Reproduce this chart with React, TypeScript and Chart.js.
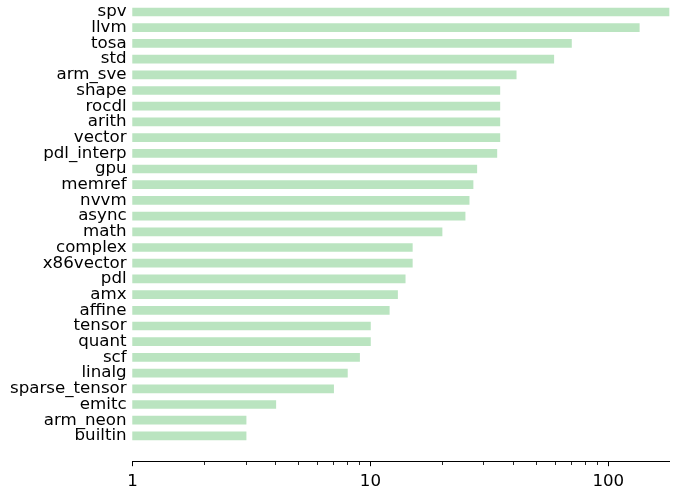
import React, { useEffect, useRef } from "react";
import { Chart, registerables } from "chart.js";

Chart.register(...registerables);

const categories: string[] = [
  "spv", "llvm", "tosa", "std", "arm_sve", "shape", "rocdl", "arith", "vector",
  "pdl_interp", "gpu", "memref", "nvvm", "async", "math", "complex", "x86vector",
  "pdl", "amx", "affine", "tensor", "quant", "scf", "linalg", "sparse_tensor",
  "emitc", "arm_neon", "builtin",
];

const counts: number[] = [
  180, 135, 70, 59, 41, 35, 35, 35, 35,
  34, 28, 27, 26, 25, 20, 15, 15,
  14, 13, 12, 10, 10, 9, 8, 7,
  4, 3, 3,
];

const majorTicks: number[] = [1, 10, 100];
const minorTicks: number[] = [2, 3, 4, 5, 6, 7, 8, 9, 20, 30, 40, 50, 60, 70, 80, 90];

const FONT = "'DejaVu Sans', sans-serif";

const isMajor = (ctx: any) => !!ctx.tick && majorTicks.includes(Number(ctx.tick.value));

export default function App() {
  const ref = useRef<HTMLCanvasElement | null>(null);

  useEffect(() => {
    if (!ref.current) return;
    const chart = new Chart(ref.current, {
      type: "bar",
      data: {
        datasets: [
          {
            data: counts.map((v, i) => ({ x: v, y: i })),
            backgroundColor: "rgb(186,228,192)",
            borderWidth: 0,
            barThickness: 8,
            clip: false as any,
          },
        ],
      },
      options: {
        animation: false,
        responsive: false,
        indexAxis: "y",
        layout: { padding: { top: 8, right: 4, left: 4, bottom: 0 } },
        plugins: { legend: { display: false }, tooltip: { enabled: false } },
        scales: {
          x: {
            type: "logarithmic",
            min: 1,
            max: Math.max(...counts),
            offset: false,
            border: { display: true, color: "#000", width: 1 },
            grid: {
              display: true,
              drawOnChartArea: false,
              drawTicks: true,
              tickLength: 5,
              tickColor: "#000",
              tickWidth: (ctx: any) => (isMajor(ctx) ? 1 : 0.85),
              tickBorderDash: (ctx: any) => (isMajor(ctx) ? [] : [3, 30]),
            } as any,
            afterBuildTicks: (scale: any) => {
              const all = [...majorTicks, ...minorTicks].sort((a, b) => a - b);
              scale.ticks = all.map((v) => ({ value: v, major: majorTicks.includes(v) }));
            },
            ticks: {
              autoSkip: false,
              maxRotation: 0,
              padding: 5.4,
              color: "#000",
              font: { family: FONT, size: 16.67 },
              callback: (v: any) => (majorTicks.includes(Number(v)) ? String(v) : ""),
            },
          },
          y: {
            type: "linear",
            reverse: true,
            offset: false,
            min: -0.2547,
            max: 28.611,
            border: { display: false },
            grid: { display: false, drawTicks: false, offset: false },
            afterBuildTicks: (scale: any) => {
              scale.ticks = categories.map((_, i) => ({ value: i }));
            },
            ticks: {
              autoSkip: false,
              padding: 6,
              color: "#000",
              font: { family: FONT, size: 16.67, lineHeight: 0.1 },
              callback: (v: any) => categories[Number(v)] ?? "",
            },
          },
        },
      },
    });
    return () => chart.destroy();
  }, []);

  return (
    <div style={{ position: "fixed", left: 0, top: 0, width: 673, height: 497 }}>
      <canvas ref={ref} width={673} height={497} style={{ display: "block" }} />
    </div>
  );
}
